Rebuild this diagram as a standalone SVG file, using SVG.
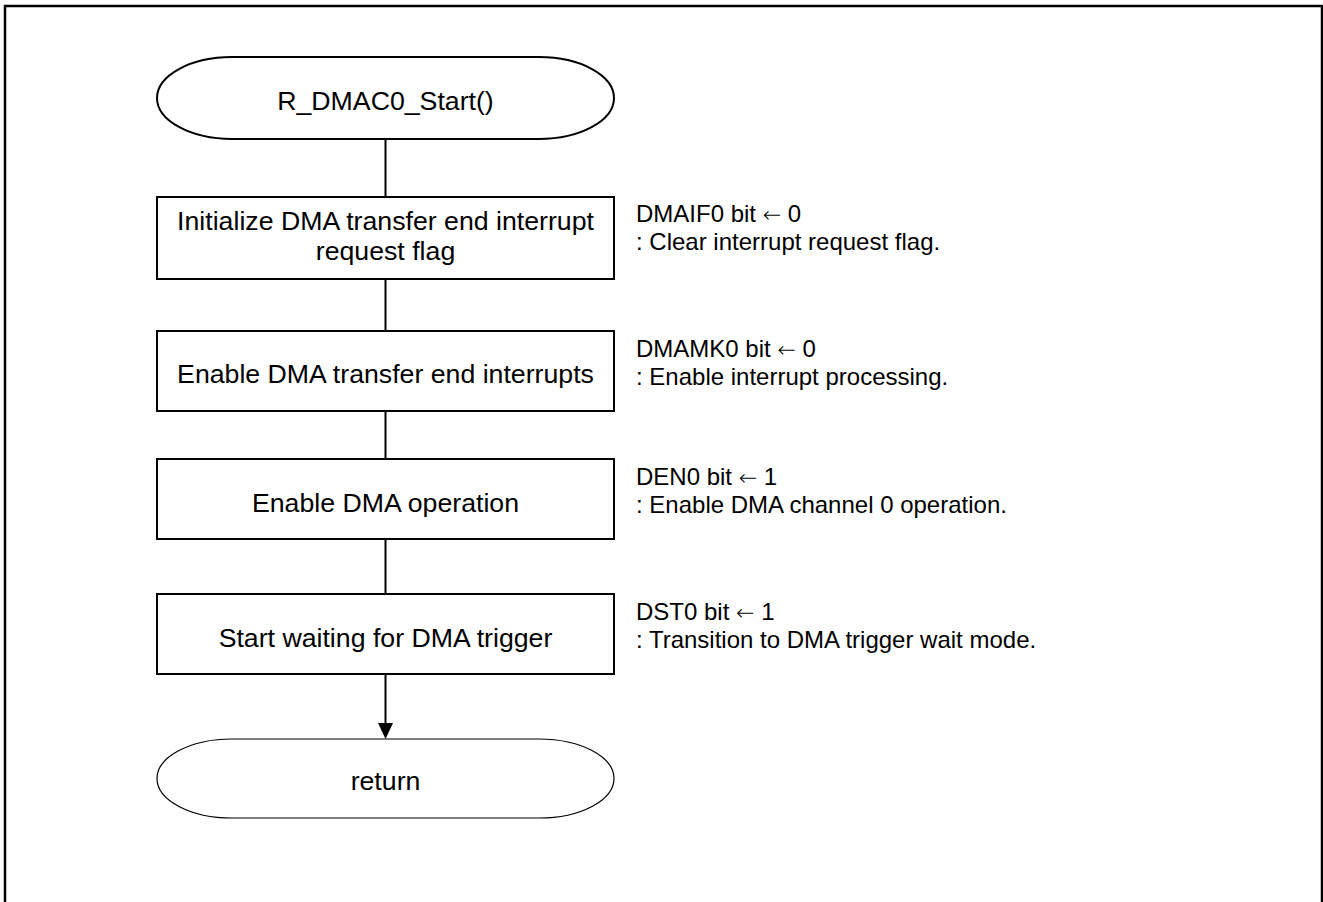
<svg xmlns="http://www.w3.org/2000/svg" width="1323" height="902" viewBox="0 0 1323 902">
<style>
.frame{fill:none;stroke:#000;stroke-width:2.5}
.box{fill:#fff;stroke:#000;stroke-width:2}
.term{fill:#fff;stroke:#000;stroke-width:2}
.term2{fill:#fff;stroke:#000;stroke-width:1.2}
.t{font-family:"Liberation Sans",Arial,sans-serif;font-size:26.7px;fill:#000;text-anchor:middle}
.n{font-family:"Liberation Sans",Arial,sans-serif;font-size:24px;fill:#000}
.ar{font-family:"DejaVu Sans",sans-serif;font-weight:200;font-size:22px}
.c{fill:none;stroke:#000;stroke-width:2}
</style>
<rect class="frame" x="5" y="6" width="1317" height="1000"/>
<g id="connectors">
<line class="c" x1="385.5" y1="139" x2="385.5" y2="197"/>
<line class="c" x1="385.5" y1="279" x2="385.5" y2="331"/>
<line class="c" x1="385.5" y1="411" x2="385.5" y2="459"/>
<line class="c" x1="385.5" y1="539" x2="385.5" y2="594"/>
<line class="c" x1="385.5" y1="674" x2="385.5" y2="730"/>
<polygon points="378,723 393,723 385.5,739" fill="#000"/>
</g>
<g id="start">
<rect class="term" x="157" y="57" width="457" height="82" rx="75" ry="41"/>
<text class="t" x="385.5" y="110">R_DMAC0_Start()</text>
</g>
<g id="step1">
<rect class="box" x="157" y="197" width="457" height="82"/>
<text class="t" x="385.5" y="230">Initialize DMA transfer end interrupt</text>
<text class="t" x="385.5" y="260">request flag</text>
<text class="n" x="636" y="222">DMAIF0 bit <tspan class="ar">←</tspan> 0</text>
<text class="n" x="636" y="250">: Clear interrupt request flag.</text>
</g>
<g id="step2">
<rect class="box" x="157" y="331" width="457" height="80"/>
<text class="t" x="385.5" y="383">Enable DMA transfer end interrupts</text>
<text class="n" x="636" y="357">DMAMK0 bit <tspan class="ar">←</tspan> 0</text>
<text class="n" x="636" y="385">: Enable interrupt processing.</text>
</g>
<g id="step3">
<rect class="box" x="157" y="459" width="457" height="80"/>
<text class="t" x="385.5" y="512">Enable DMA operation</text>
<text class="n" x="636" y="485">DEN0 bit <tspan class="ar">←</tspan> 1</text>
<text class="n" x="636" y="513">: Enable DMA channel 0 operation.</text>
</g>
<g id="step4">
<rect class="box" x="157" y="594" width="457" height="80"/>
<text class="t" x="385.5" y="647">Start waiting for DMA trigger</text>
<text class="n" x="636" y="620">DST0 bit <tspan class="ar">←</tspan> 1</text>
<text class="n" x="636" y="648">: Transition to DMA trigger wait mode.</text>
</g>
<g id="end">
<rect class="term2" x="157" y="739" width="457" height="79" rx="75" ry="39.5"/>
<text class="t" x="385.5" y="790">return</text>
</g>
</svg>
